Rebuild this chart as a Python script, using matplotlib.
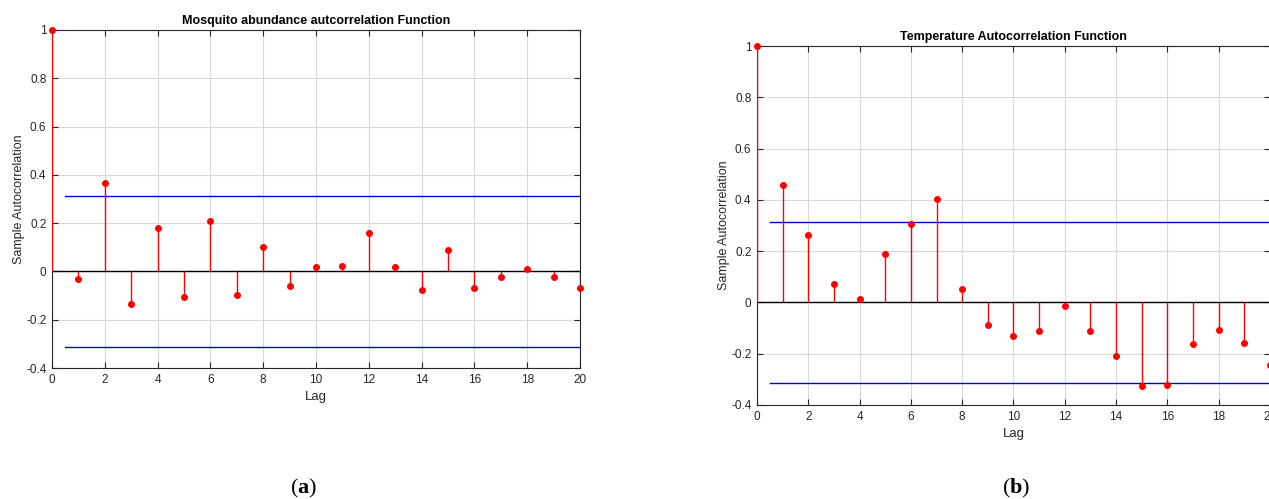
import matplotlib.pyplot as plt
import numpy as np

plt.rcParams["font.family"] = ["Liberation Sans", "DejaVu Sans"]
plt.rcParams["mathtext.fontset"] = "custom"
plt.rcParams["mathtext.rm"] = "Liberation Serif"
plt.rcParams["mathtext.bf"] = "Liberation Serif:bold"

lags = np.arange(0, 21)
acf_mosquito = [1.0, -0.03, 0.365, -0.135, 0.18, -0.105, 0.21, -0.098, 0.103, -0.062,
                0.017, 0.024, 0.158, 0.017, -0.075, 0.088, -0.068, -0.024, 0.009,
                -0.024, -0.068]
acf_temp = [1.0, 0.457, 0.262, 0.07, 0.012, 0.19, 0.305, 0.405, 0.052, -0.09,
            -0.13, -0.112, -0.013, -0.112, -0.207, -0.325, -0.322, -0.162, -0.108,
            -0.16, -0.245]
bound_mosquito = 0.313
bound_temp = 0.315
titles = ["Mosquito abundance autcorrelation Function", "Temperature Autocorrelation Function"]
captions = ["a", "b"]

fig = plt.figure(figsize=(12.69, 4.99), dpi=100)
ax_a = fig.add_axes([0.041, 0.2625, 0.416, 0.6775])
ax_b = fig.add_axes([0.5965, 0.1884, 0.4043, 0.7194])

tick_color = "#262626"
for ax, acf, bound, title in zip([ax_a, ax_b], [acf_mosquito, acf_temp],
                                 [bound_mosquito, bound_temp], titles):
    ax.axhline(0, color="black", lw=1.0, zorder=2)
    ax.vlines(lags, 0, acf, color="red", lw=1.0, zorder=3)
    ax.plot(lags, acf, "o", color="red", ms=4, zorder=4, clip_on=False)
    ax.plot([0.5, 20], [bound, bound], color="#0000cc", lw=1.0, zorder=2)
    ax.plot([0.5, 20], [-bound, -bound], color="#0000cc", lw=1.0, zorder=2)
    ax.set_xlim(0, 20)
    ax.set_ylim(-0.4, 1)
    ax.set_xticks(np.arange(0, 21, 2))
    ax.set_yticks([-0.4, -0.2, 0, 0.2, 0.4, 0.6, 0.8, 1])
    ax.set_yticklabels(["-0.4", "-0.2", "0", "0.2", "0.4", "0.6", "0.8", "1"])
    ax.grid(True, color="#d9d9d9", lw=0.8)
    ax.set_axisbelow(True)
    ax.tick_params(direction="in", top=True, right=True, length=4, width=0.8,
                   labelsize=8.5, labelcolor=tick_color, color=tick_color, pad=4)
    for s in ax.spines.values():
        s.set_color(tick_color)
        s.set_linewidth(0.8)
    ax.set_title(title, fontsize=9, fontweight="bold", pad=4)
    ax.set_xlabel("Lag", fontsize=9.5, color=tick_color)
    ax.set_ylabel("Sample Autocorrelation", fontsize=9, color=tick_color, labelpad=1)

for x, c in zip([0.239, 0.801], captions):
    fig.text(x, 0.012, r"$\mathrm{(}\mathbf{%s}\mathrm{)}$" % c, ha="center", fontsize=16)

fig.savefig("out.png", dpi=100)
